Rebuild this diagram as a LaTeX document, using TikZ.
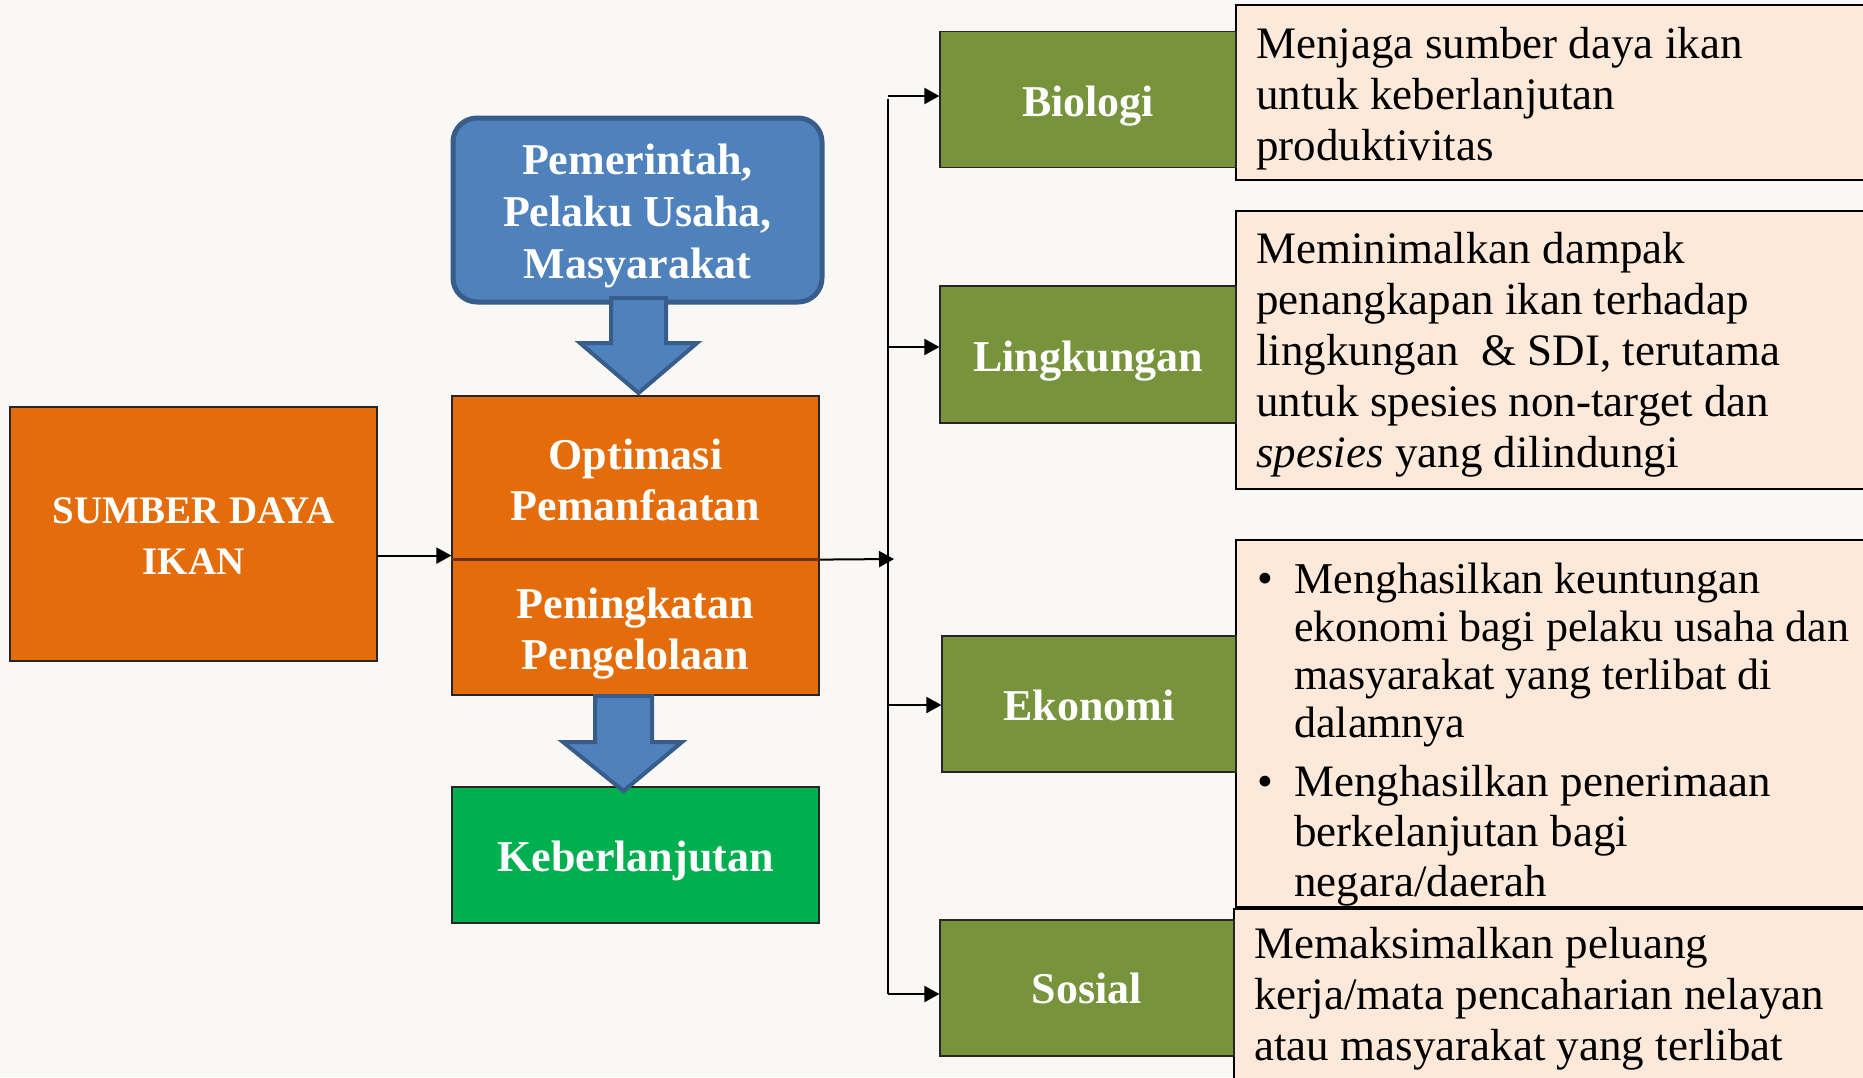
\documentclass[tikz,border=0pt]{standalone}
\usepackage{fontspec}
\setmainfont{Liberation Serif}
\usetikzlibrary{arrows.meta}
\definecolor{bg}{HTML}{F9F8F4}
\definecolor{orng}{HTML}{E46C0A}
\definecolor{grn}{HTML}{77933C}
\definecolor{blu}{HTML}{4F81BD}
\definecolor{bluD}{HTML}{385D8A}
\definecolor{kgrn}{HTML}{00B050}
\definecolor{peach}{HTML}{FDE9D9}
\definecolor{brn}{HTML}{6B3200}
\newcommand\Lines[2]{\vtop{\baselineskip=#1\relax\lineskiplimit=-20pt #2}}
\begin{document}
\begin{tikzpicture}[x=0.5pt,y=-0.5pt,
 box/.style={draw=black!85, line width=0.6pt, inner sep=0pt},
 obox/.style={box, fill=orng},
 gbox/.style={box, fill=grn, minimum width=148pt, minimum height=68pt},
 lbl/.style={inner sep=0pt, text=white, align=center,
   font=\bfseries\fontsize{22}{25.5}\selectfont},
 tbox/.style={draw=black, line width=0.9pt, fill=peach},
 txt/.style={inner sep=0pt, anchor=base west, font=\fontsize{22.5}{25.5}\selectfont},
 conn/.style={line width=1pt, draw=black},
 arr/.style={conn, -{Triangle[length=7.5pt,width=8pt]}},
 barrow/.style={fill=blu, draw=bluD, line width=2pt, line join=miter}
]
\useasboundingbox (0,0) rectangle (1863,1077);
\clip (0,0) rectangle (1863,1077);
\fill[bg] (0,0) rectangle (1863,1077);

% right text boxes
\path[tbox] (1236,5) rectangle (1900,180);
\path[tbox] (1236,211) rectangle (1900,489);
\path[tbox] (1236,540) rectangle (1900,907);
\path[tbox] (1234,909) rectangle (1900,1120);

% green category boxes
\node[gbox] (bio) at (1088,99.5) {};
\node[gbox, minimum height=68.5pt] (lin) at (1088,354.5) {};
\node[gbox, minimum width=147pt] (eko) at (1089,704) {};
\node[gbox, minimum width=147pt] (sos) at (1087,988) {};
\node[lbl] (bioT) at ([yshift=-3.5pt]bio.center) {Biologi};
\node[lbl] (linT) at ([yshift=-3.5pt]lin.center) {Lingkungan};
\node[lbl] (ekoT) at ([yshift=-0.5pt]eko.center) {Ekonomi};
\node[lbl] (sosT) at (sos.center) {Sosial};

% left column
\node[obox, minimum width=183.5pt, minimum height=127pt] (sdi) at (193.5,534) {};
\node[lbl, font=\bfseries\fontsize{19.5}{25.5}\selectfont] (sdiT) at ([yshift=-1pt]sdi.center) {SUMBER DAYA\\IKAN};
\node[box, fill=blu, draw=bluD, line width=2.5pt, rounded corners=12pt,
      minimum width=184.5pt, minimum height=92pt] (gov) at (637.5,210) {};
\node[lbl, font=\bfseries\fontsize{22}{26}\selectfont] (govT) at ([yshift=-3pt]gov.center) {Pemerintah,\\Pelaku Usaha,\\Masyarakat};
\node[obox, minimum width=183.5pt, minimum height=81.5pt] (opt) at (635.5,477.5) {};
\node[lbl] (optT) at ([yshift=-1pt]opt.center) {Optimasi\\Pemanfaatan};
\node[obox, minimum width=183.5pt, minimum height=68pt] (pen) at (635.5,627) {};
\node[lbl] (penT) at ([yshift=-3.5pt]pen.center) {Peningkatan\\Pengelolaan};
\draw[brn, line width=1.2pt] (opt.south west) -- (opt.south east);
\node[box, fill=kgrn, minimum width=183.5pt, minimum height=68pt] (keb) at (635.5,855) {};
\node[lbl] (kebT) at ([yshift=-3pt]keb.center) {Keberlanjutan};

% block arrows
\path[barrow] (611,298) -- (666,298) -- (666,343) -- (697,343) -- (638.5,393)
  -- (580,343) -- (611,343) -- cycle;
\path[barrow] (595,696) -- (652,696) -- (652,742) -- (682,742) -- (623.5,791)
  -- (563,742) -- (595,742) -- cycle;

% connectors
\coordinate (v1) at (888,96);
\coordinate (v1b) at (888,99);
\coordinate (v2) at (888,347);
\coordinate (v3) at (888,705);
\coordinate (v4) at (888,994);
\coordinate (vj) at (894,559);
\draw[conn] (v1b) -- (v4);
\draw[arr] (v1) -- (v1 -| bio.west);
\draw[arr] (v2) -- (v2 -| lin.west);
\draw[arr] (v3) -- (v3 -| eko.west);
\draw[arr] (v4) -- (v4 -| sos.west);
\draw[arr] (opt.south east) -- (vj);
\draw[arr] ([yshift=2pt]sdi.east |- opt.south west) -- ([yshift=2pt]opt.south west);

% texts
\node[txt] (tbio) at (1256,58) {\Lines{25.5pt}{%
  \hbox{Menjaga sumber daya ikan}\hbox{untuk keberlanjutan}\hbox{produktivitas}}};
\node[txt] (tlin) at (1256,263) {\Lines{25.5pt}{%
  \hbox{Meminimalkan dampak}\hbox{penangkapan ikan terhadap}%
  \hbox{lingkungan\ \ \& SDI, terutama}\hbox{untuk spesies non-target dan}%
  \hbox{\textit{spesies} yang dilindungi}}};
\node[txt] (b1) at (1257,593) {•};
\node[txt, font=\fontsize{22}{25.5}\selectfont] (teko1) at (1294,593) {\Lines{24pt}{%
  \hbox{Menghasilkan keuntungan}\hbox{ekonomi bagi pelaku usaha dan}%
  \hbox{masyarakat yang terlibat di}\hbox{dalamnya}}};
\node[txt] (b2) at (1257,796) {•};
\node[txt] (teko2) at (1294,796) {\Lines{25pt}{%
  \hbox{Menghasilkan penerimaan}\hbox{berkelanjutan bagi}\hbox{negara/daerah}}};
\node[txt] (tsos) at (1254,958) {\Lines{25.5pt}{%
  \hbox{Memaksimalkan peluang}\hbox{kerja/mata pencaharian nelayan}%
  \hbox{atau masyarakat yang terlibat}}};
\end{tikzpicture}
\end{document}
